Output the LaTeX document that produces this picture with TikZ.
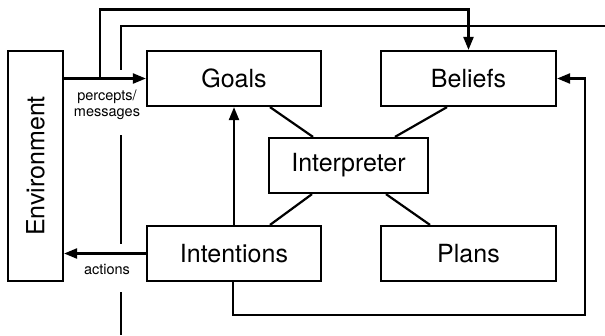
\documentclass[tikz,border=0pt]{standalone}
\usepackage{fontspec}
\setmainfont{TeX Gyre Heros}
\usetikzlibrary{arrows.meta}
\begin{document}
\begin{tikzpicture}[x=1pt,y=-1pt,
  line width=2.2pt,
  box/.style={draw,rectangle,inner sep=0pt,font=\fontsize{25}{28}\selectfont},
  lbl/.style={font=\fontsize{14.5}{16}\selectfont,align=center,inner sep=0pt},
  arr/.style={-{Triangle[length=13pt,width=10pt]}}]
\useasboundingbox (0,0) rectangle (605,335);
\node[box,minimum width=55pt,minimum height=230pt] (env) at (35.5,166) {};
\node[rotate=90,font=\fontsize{25}{28}\selectfont] (envt) at (env.center) {Environment};
\node[box,minimum width=174pt,minimum height=55pt] (goals) at (234,78.5) {Goals};
\node[box,minimum width=175pt,minimum height=55pt] (beliefs) at (468.5,78.5) {Beliefs};
\node[box,minimum width=159pt,minimum height=55pt] (interp) at (348.5,165.5) {Interpreter};
\node[box,minimum width=174pt,minimum height=55pt] (intent) at (234,253.5) {Intentions};
\node[box,minimum width=175pt,minimum height=55pt] (plans) at (468.5,253.5) {Plans};
% internal links
\draw ([xshift=36pt]goals.south) -- ([xshift=-35.5pt]interp.north);
\draw ([xshift=-21.5pt]beliefs.south) -- ([xshift=46.5pt]interp.north);
\draw ([xshift=-36.5pt]interp.south) -- ([xshift=36pt]intent.north);
\draw ([xshift=37.5pt]interp.south) -- ([xshift=-38.5pt]plans.north);
\draw[arr] (intent.north) -- (goals.south);
% percepts
\draw[arr] (goals.west -| env.east) -- (goals.west);
\coordinate (split) at (100,78.5);
\coordinate (topl) at (100,9.5);
\draw[arr] (split) -- (topl) -| (beliefs.north);
% actions
\draw[arr] (intent.west) -- (intent.west -| env.east);
% loop back to beliefs
\coordinate (lb) at (585,315);
\draw[arr] ([xshift=-1pt]intent.south) |- (lb) |- (beliefs.east);
% agent boundary
\draw (605,26) -- (121,26) -- (121,70);
\draw (121,135) -- (121,244);
\draw (121,292) -- (121,335);
% labels
\node[lbl] (pm) at (107,105) {percepts/\\messages};
\node[lbl] (act) at (107,269) {actions};
\end{tikzpicture}
\end{document}
